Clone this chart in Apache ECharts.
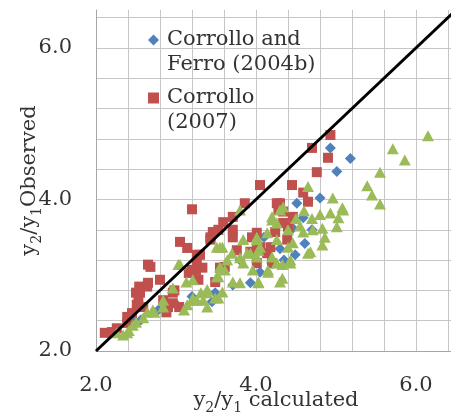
<!DOCTYPE html>
<html><head><meta charset="utf-8">
<script src="https://cdn.jsdelivr.net/npm/echarts@6/dist/echarts.min.js"></script>
<style>html,body{margin:0;padding:0;background:#fff}#c{width:451px;height:416px}</style>
</head><body><div id="c"></div>
<script>
const tickLabels = ['2.0', '4.0', '6.0'];
const seriesNames = ['Corrollo and\nFerro (2004b)', 'Corrollo\n(2007)', 'Present data', 'y = x'];

const corrolloFerro2004b = [
  [2.45,2.40],[2.56,2.41],[2.78,2.54],[3.00,2.62],[3.20,2.72],[3.45,2.65],[3.49,2.77],
  [3.71,2.87],[3.93,2.90],[4.05,3.04],[4.20,3.15],[4.35,3.20],[4.49,3.27],[4.30,3.35],
  [4.61,3.42],[4.46,3.62],[4.59,3.76],[4.51,3.95],[4.80,4.02],[4.93,4.68],[5.01,4.37],
  [5.18,4.54],[4.70,3.60],[3.80,3.20],[4.10,3.50]
];

const corrollo2007 = [
  [2.11,2.24],[2.20,2.25],[2.26,2.30],[2.39,2.37],[2.39,2.45],[2.45,2.50],[2.50,2.77],
  [2.51,2.61],[2.53,2.67],[2.55,2.77],[2.54,2.85],[2.59,2.58],[2.64,2.85],[2.65,2.90],
  [2.65,3.14],[2.68,3.11],[2.80,2.94],[2.84,2.67],[2.88,2.51],[2.90,2.58],[2.96,2.63],
  [2.96,2.77],[2.98,2.80],[3.04,2.58],[3.05,3.44],[3.14,3.36],[3.16,3.03],[3.20,3.07],
  [3.20,3.87],[3.25,3.07],[3.26,3.16],[3.26,3.27],[3.30,3.27],[3.28,2.94],[3.33,3.10],
  [3.43,3.47],[3.43,3.50],[3.46,3.57],[3.49,2.91],[3.53,3.60],[3.55,3.10],[3.59,3.70],
  [3.61,3.11],[3.71,3.77],[3.71,3.50],[3.71,3.60],[3.76,3.33],[3.86,3.95],[3.93,3.31],
  [3.95,3.50],[4.01,3.56],[4.01,3.16],[4.01,3.33],[4.05,4.19],[4.05,3.37],[4.14,3.29],
  [4.18,3.37],[4.20,3.16],[4.24,3.57],[4.26,3.95],[4.28,3.86],[4.30,3.95],[4.34,3.84],
  [4.34,3.69],[4.39,3.47],[4.40,3.64],[4.45,4.19],[4.46,3.77],[4.59,4.09],[4.65,3.97],
  [4.70,4.68],[4.76,4.36],[4.90,4.55],[4.93,4.85]
];

const presentData = [
  [2.26,2.24],[2.34,2.21],[2.39,2.24],[2.41,2.27],[2.46,2.34],[2.50,2.38],[2.59,2.44],
  [2.64,2.51],[2.71,2.54],[2.73,2.51],[2.84,2.58],[2.84,2.67],[2.96,2.83],[3.03,3.14],
  [3.05,3.14],[3.10,2.54],[3.13,2.91],[3.14,2.61],[3.21,2.67],[3.21,2.94],[3.21,2.70],
  [3.26,2.67],[3.31,2.77],[3.34,2.67],[3.39,2.58],[3.39,2.81],[3.39,2.77],[3.49,2.70],
  [3.51,2.98],[3.51,3.37],[3.53,2.98],[3.53,2.70],[3.55,3.11],[3.55,3.37],[3.58,2.78],
  [3.58,3.37],[3.61,3.07],[3.64,3.20],[3.70,3.29],[3.71,2.91],[3.80,2.90],[3.80,3.23],
  [3.80,3.86],[3.84,3.16],[3.84,3.47],[3.89,3.29],[3.93,3.29],[3.96,3.07],[4.01,3.24],
  [4.01,3.47],[4.01,3.50],[4.03,2.91],[4.03,2.90],[4.03,3.33],[4.05,3.37],[4.14,3.56],
  [4.15,3.04],[4.15,3.07],[4.20,3.24],[4.20,3.73],[4.20,3.77],[4.26,3.16],[4.26,3.47],
  [4.26,3.69],[4.30,2.91],[4.30,3.86],[4.33,2.96],[4.33,3.14],[4.34,3.90],[4.40,3.37],
  [4.43,3.16],[4.43,3.20],[4.46,3.43],[4.59,3.57],[4.65,3.29],[4.65,4.17],[4.68,3.31],
  [4.71,3.60],[4.80,3.80],[4.83,3.40],[4.83,3.62],[4.86,3.50],[4.93,3.82],[4.96,4.02],
  [5.01,3.64],[5.03,3.76],[5.08,3.89],[5.09,3.86],[5.39,4.18],[5.45,4.06],[5.55,3.94],
  [5.55,4.36],[5.71,4.67],[5.86,4.52],[6.15,4.84],[4.50,3.75],[4.60,3.85],[4.40,3.60],
  [4.55,3.65],[4.70,3.75]
];

const diagonalLine = [[2, 2], [6.5, 6.5]];

const FONT = 'DejaVu Serif';
const TXT = '#333333';
const GRID = '#c6c6c6';

const subRich = {
  m: { fontFamily: FONT, fontSize: 21, lineHeight: 28, color: TXT, verticalAlign: 'middle' },
  s: { fontFamily: FONT, fontSize: 14, lineHeight: 14, color: TXT, verticalAlign: 'bottom' }
};

const labelFmt = v => { const s = v.toFixed(1); return tickLabels.includes(s) ? s : ''; };

const axisCommon = {
  type: 'value', min: 2, max: 6.5, interval: 0.4,
  nameLocation: 'middle',
  nameMoveOverlap: false,
  axisLine: { show: true, lineStyle: { color: '#a6a6a6', width: 1 } },
  axisTick: { show: false },
  axisLabel: { formatter: labelFmt, fontFamily: FONT, fontSize: 21, color: TXT, margin: 24, showMaxLabel: false },
  splitLine: { show: true, showMaxLine: false, lineStyle: { color: GRID, width: 1 } },
  nameTextStyle: { rich: subRich }
};

const chart = echarts.init(document.getElementById('c'), null, { renderer: 'canvas' });
chart.setOption({
  animation: false,
  backgroundColor: '#ffffff',
  grid: { left: 96, right: -5, top: 10, bottom: 65, containLabel: false, outerBoundsMode: 'none' },
  xAxis: Object.assign({}, axisCommon, {
    name: '{m|y}{s|2}{m|/y}{s|1}{m| calculated}',
    nameGap: 36
  }),
  yAxis: Object.assign({}, axisCommon, {
    name: '{m|y}{s|2}{m|/y}{s|1}{m|Observed}',
    nameGap: 52,
    nameRotate: 90
  }),
  legend: {
    data: [
      { name: seriesNames[0], icon: 'diamond' },
      { name: seriesNames[1], icon: 'rect' }
    ],
    formatter: n => ' \n' + n,
    orient: 'vertical',
    left: 148, top: 2.5, padding: 0,
    itemWidth: 11, itemHeight: 11, itemGap: -17,
    selectedMode: false,
    textStyle: { fontFamily: FONT, fontSize: 21, lineHeight: 25, color: TXT, padding: [0, 0, 0, 3] }
  },
  series: [
    { name: seriesNames[0], type: 'scatter', data: corrolloFerro2004b, symbol: 'diamond', symbolSize: 11,
      itemStyle: { color: '#4F81BD', opacity: 1 } },
    { name: seriesNames[1], type: 'scatter', data: corrollo2007, symbol: 'rect', symbolSize: 10,
      itemStyle: { color: '#C0504D', opacity: 1 } },
    { name: seriesNames[2], type: 'scatter', data: presentData, symbol: 'triangle', symbolSize: [12, 11],
      itemStyle: { color: '#9BBB59', opacity: 1 } },
    { name: seriesNames[3], type: 'line', data: diagonalLine, symbol: 'none', clip: true,
      lineStyle: { color: '#000000', width: 3 }, z: 10 }
  ]
});
</script>
</body></html>
